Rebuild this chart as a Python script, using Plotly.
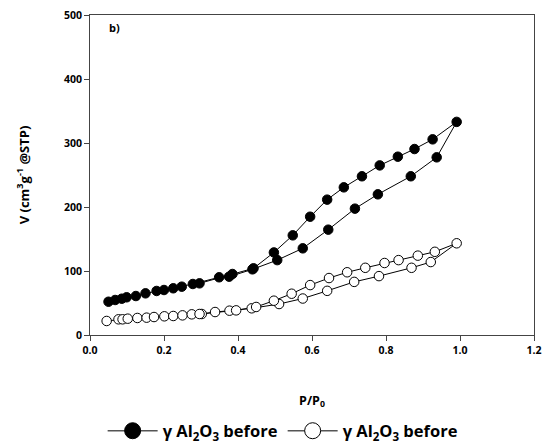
import plotly.graph_objects as go

# Filled series: adsorption then desorption branch
filled_ads_p = [0.05, 0.068, 0.086, 0.099, 0.124, 0.15, 0.18, 0.2, 0.225, 0.248, 0.278, 0.349, 0.376, 0.439, 0.506, 0.575, 0.644, 0.716, 0.778, 0.867, 0.937, 0.991]
filled_ads_v = [52, 54.7, 56.7, 58.9, 60.9, 65.1, 68.8, 70.3, 73, 75.5, 79.7, 90.2, 91.1, 102.6, 117, 135.4, 164.6, 197.4, 219.8, 248, 277.6, 333]
filled_des_p = [0.926, 0.877, 0.832, 0.783, 0.735, 0.686, 0.641, 0.595, 0.548, 0.497, 0.442, 0.385, 0.296]
filled_des_v = [305.7, 290.6, 278.6, 265, 248, 230.7, 211.5, 184.8, 155.7, 129, 104.2, 95.3, 80.7]

# Open series: adsorption then desorption branch
open_ads_p = [0.045, 0.077, 0.088, 0.102, 0.128, 0.153, 0.173, 0.201, 0.225, 0.25, 0.275, 0.302, 0.338, 0.377, 0.437, 0.511, 0.575, 0.641, 0.714, 0.781, 0.869, 0.921, 0.991]
open_ads_v = [21.9, 24.5, 24.5, 25.5, 26.6, 27.1, 28.1, 29.2, 29.7, 30.7, 32.3, 32.8, 35.9, 38, 41.7, 48.4, 57, 69, 83, 92, 105, 114, 143.3]
open_des_p = [0.932, 0.886, 0.834, 0.796, 0.744, 0.695, 0.646, 0.595, 0.545, 0.497, 0.449, 0.395, 0.296]
open_des_v = [130, 124, 117, 112.5, 105, 98, 89, 78, 64.5, 53.6, 43.8, 38.5, 32.8]

legend_names = ["γ Al<sub>2</sub>O<sub>3</sub> before", "γ Al<sub>2</sub>O<sub>3</sub> before"]
x_ticks = [0.0, 0.2, 0.4, 0.6, 0.8, 1.0, 1.2]
y_ticks = [0, 100, 200, 300, 400, 500]

FONT = "'Open Sans', Lato, sans-serif"
BOLD = dict(color="black", family=FONT, weight="bold")

fig = go.Figure()
fig.add_trace(go.Scatter(
    x=filled_ads_p + filled_des_p, y=filled_ads_v + filled_des_v,
    mode="lines+markers", showlegend=False,
    line=dict(color="black", width=1),
    marker=dict(size=9.5, color="black", line=dict(color="black", width=1)),
))
fig.add_trace(go.Scatter(
    x=open_ads_p + open_des_p, y=open_ads_v + open_des_v,
    mode="lines+markers", showlegend=False,
    line=dict(color="black", width=1),
    marker=dict(size=9.5, color="white", line=dict(color="black", width=1)),
))
# legend entries with larger symbols
fig.add_trace(go.Scatter(
    x=[None], y=[None], mode="lines+markers", name=legend_names[0],
    line=dict(color="#555", width=1.5),
    marker=dict(size=16, color="black", line=dict(color="black", width=1)),
))
fig.add_trace(go.Scatter(
    x=[None], y=[None], mode="lines+markers", name=legend_names[1],
    line=dict(color="#555", width=1.5),
    marker=dict(size=16, color="white", line=dict(color="black", width=1)),
))

fig.add_annotation(x=0.045, y=480, text="b)", showarrow=False,
                   xanchor="left", yanchor="middle", font=dict(size=11, **BOLD))

axis_common = dict(showgrid=False, zeroline=False, showline=True, linecolor="#444", linewidth=1,
                   mirror=True, ticks="outside", ticklen=5, tickcolor="#444",
                   ticklabeloverflow="allow", automargin=False,
                   tickfont=dict(size=10.5, **BOLD))

fig.update_xaxes(range=[0, 1.2], tickvals=x_ticks, ticktext=[f"{v:.1f}" for v in x_ticks],
                 title=dict(text="P/P<sub>0</sub>", font=dict(size=12.5, **BOLD), standoff=40),
                 **axis_common)
fig.update_yaxes(range=[0, 500], tickvals=y_ticks, ticktext=[f"{v}" for v in y_ticks],
                 title=dict(text="V (cm<sup>3</sup>g<sup>-1</sup> @STP)", font=dict(size=13, **BOLD), standoff=31),
                 **axis_common)

fig.update_layout(
    width=543, height=448,
    margin=dict(l=90, r=9, t=15, b=113, autoexpand=False),
    paper_bgcolor="white", plot_bgcolor="white",
    font=dict(family=FONT, color="black"),
    showlegend=True,
    legend=dict(orientation="h", x=0.435, xanchor="center", y=-0.3, yanchor="middle",
                font=dict(size=16.5, **BOLD), itemwidth=50, tracegroupgap=0,
                bgcolor="rgba(0,0,0,0)"),
)

fig.write_html("out.html", config={"displayModeBar": False},
               post_script="document.body.style.margin='0';")
